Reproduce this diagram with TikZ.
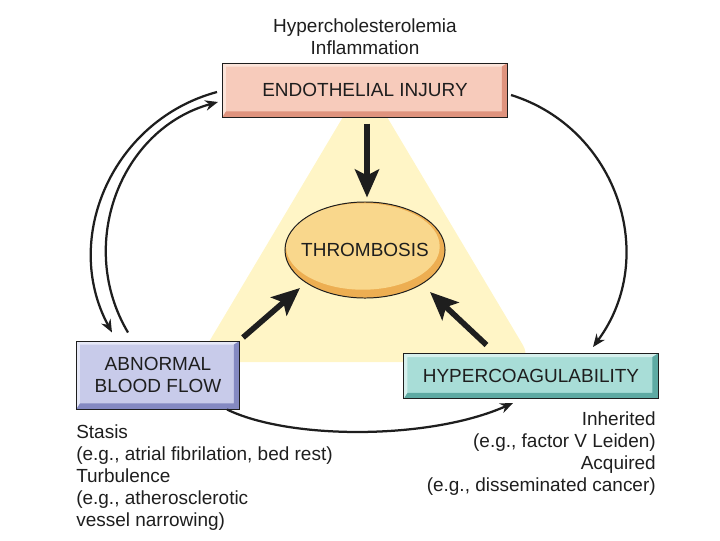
\documentclass[tikz,border=0pt]{standalone}
\usepackage{fontspec}
\setmainfont{Liberation Sans}
\usepackage{tikz}
\usetikzlibrary{positioning,arrows.meta,calc,shapes.geometric}
\definecolor{Ink}{HTML}{1E1E1E}
\definecolor{EndoFill}{HTML}{F7CBBB}
\definecolor{EndoLight}{HTML}{FCE4DA}
\definecolor{EndoDark}{HTML}{DF937E}
\definecolor{FlowFill}{HTML}{C8CBEA}
\definecolor{FlowLight}{HTML}{E6E8F7}
\definecolor{FlowDark}{HTML}{8489C2}
\definecolor{CoagFill}{HTML}{A8DDD7}
\definecolor{CoagLight}{HTML}{D6F0ED}
\definecolor{CoagDark}{HTML}{5EAAA3}
\definecolor{ThrFill}{HTML}{F9D78C}
\definecolor{ThrDark}{HTML}{EDAE52}
\definecolor{TriFill}{HTML}{FFF5C6}
\newcommand{\boxfont}{\fontsize{13.5}{15}\selectfont}
\newcommand{\notefont}{\fontsize{13.5}{15.7}\selectfont}

\begin{document}
\begin{tikzpicture}[
  x=0.025cm, y=-0.025cm, font=\notefont, color=Ink,
  bevel/.style n args={3}{draw=Ink,line width=.7pt,fill=#1,align=center,
    inner sep=0pt,font=\boxfont,
    path picture={
      \path (path picture bounding box.south west) coordinate (bsw)
            (path picture bounding box.north east) coordinate (bne);
      \fill[#2] (bsw) |- (bne) -- ($(bne)+(-4pt,-2.5pt)$)
        -- ($(bsw|-bne)+(2.5pt,-2.5pt)$) -- ($(bsw)+(2.5pt,4pt)$) -- cycle;
      \fill[#3] (bsw) -| (bne) -- ($(bne)+(-4pt,-2.5pt)$)
        -- ($(bne|-bsw)+(-4pt,4pt)$) -- ($(bsw)+(2.5pt,4pt)$) -- cycle;}},
  disc/.style={ellipse,draw=Ink,line width=.7pt,fill=ThrFill,font=\boxfont,
    inner xsep=-6pt,inner ysep=0pt,minimum width=4cm,minimum height=2.4cm,
    path picture={
      \fill[ThrDark] (path picture bounding box.center)
        ellipse[x radius=2cm,y radius=1.2cm];
      \fill[ThrFill] ($(path picture bounding box.center)+(-1.5pt,2.5pt)$)
        ellipse[x radius=1.92cm,y radius=1.08cm];}},
  push/.style={-{Stealth[length=7mm,width=6mm,inset=1.5mm]},line width=4pt,draw=Ink},
  link/.style={-{Stealth[length=3.2mm,width=2.6mm]},line width=1.6pt,draw=Ink},
  note/.style={inner sep=0pt}]

\useasboundingbox (0,0) rectangle (720,540);

% shaded triangle behind the three causes
\fill[TriFill,rounded corners=14pt] (365,80) -- (533,362) -- (197,362) -- cycle;

\node[bevel={EndoFill}{EndoLight}{EndoDark},minimum width=7.125cm,minimum height=1.35cm]
  (endo) at (365,90) {ENDOTHELIAL INJURY};
\node[bevel={FlowFill}{FlowLight}{FlowDark},minimum width=4.075cm,minimum height=1.7cm]
  (flow) at (158,375) {ABNORMAL\\BLOOD FLOW};
\node[bevel={CoagFill}{CoagLight}{CoagDark},minimum width=6.35cm,minimum height=1.125cm]
  (coag) at (531,376) {HYPERCOAGULABILITY};
\node[disc] (thr) at (365,250) {THROMBOSIS};

\node[note,align=center,anchor=north] (risk) at (365,18)
  {Hypercholesterolemia\\Inflammation};
\node[note,align=left,anchor=north west] (flownote) at (76,424)
  {Stasis\\(e.g., atrial fibrilation, bed rest)\\Turbulence\\
   (e.g., atherosclerotic\\vessel narrowing)};
\node[note,align=right,anchor=north east] (coagnote) at (656,411)
  {Inherited\\(e.g., factor V Leiden)\\Acquired\\(e.g., disseminated cancer)};

\draw[push] ($(endo.south)+(2,6)$) -- ($(thr.north)+(2,-4)$);
\draw[push] ($(flow.north east)+(3,-3)$) -- ($(thr.center)+(-65,38)$);
\draw[push] ($(coag.north west)+(83,-8)$) -- ($(thr.center)+(65,42)$);

\draw[link] ($(endo.west)+(-5,2)$) .. controls (113,120) and (61,238) .. ($(flow.north)+(-46,-8)$);
\draw[link] ($(flow.north)+(-30,-8)$) .. controls (76,245) and (120,129) .. ($(endo.west)+(-4,12)$);
\draw[link] ($(endo.east)+(3,5)$) .. controls (617,128) and (660,257) .. ($(coag.north)+(62,-6)$);
\draw[link] ($(flow.south east)+(-13,0)$) .. controls (290,440) and (430,440) .. ($(coag.south)+(-18,4)$);
\end{tikzpicture}
\end{document}
